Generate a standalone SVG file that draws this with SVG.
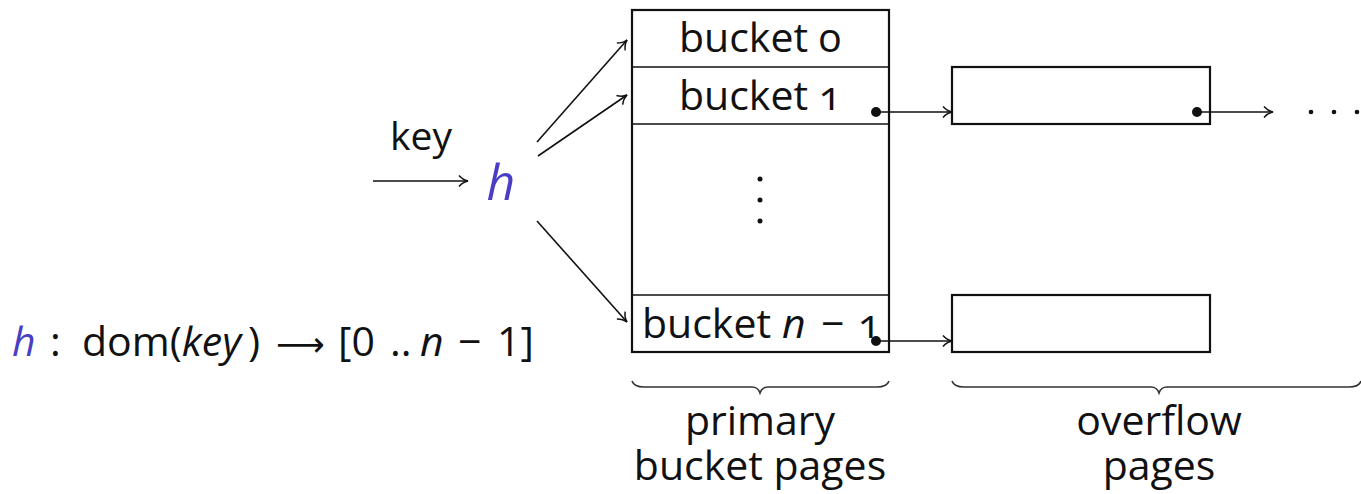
<svg xmlns="http://www.w3.org/2000/svg" width="1361" height="494" viewBox="0 0 1361 494">
<style>
text{font-family:"Open Sans","DejaVu Sans",sans-serif;fill:#111}
.t{font-size:41px;font-variant-numeric:oldstyle-nums}
.f{font-size:41px}
.box{fill:#fff;stroke:#111;stroke-width:2.2}
.ln{stroke:#111;stroke-width:1.6;fill:none}
.br{stroke:#333;stroke-width:1.6;fill:none}
.blue{fill:#4a3fc4}
.it{font-style:italic}
</style>
<defs>
<marker id="ah" markerWidth="14" markerHeight="14" refX="11" refY="7" orient="auto" markerUnits="userSpaceOnUse">
<path d="M2,1.5 Q6,6 11,7 Q6,8 2,12.5" fill="none" stroke="#111" stroke-width="1.5"/>
</marker>
</defs>
<rect width="1361" height="494" fill="#fff"/>
<g id="primary">
<rect class="box" x="632" y="10" width="257" height="342"/>
<line class="ln" x1="632" y1="67" x2="889" y2="67" stroke-width="2.2"/>
<line class="ln" x1="632" y1="124" x2="889" y2="124" stroke-width="2.2"/>
<line class="ln" x1="632" y1="295" x2="889" y2="295" stroke-width="2.2"/>
<text class="t" x="760" y="52" text-anchor="middle">bucket 0</text>
<text class="t" x="760" y="110" text-anchor="middle">bucket 1</text>
<circle cx="760" cy="179" r="2.5" fill="#111"/>
<circle cx="760" cy="200" r="2.5" fill="#111"/>
<circle cx="760" cy="221" r="2.5" fill="#111"/>
<text class="t" x="642" y="338">bucket <tspan class="it" x="782">n</tspan><tspan x="821">−</tspan><tspan x="858">1</tspan></text>
</g>
<g id="overflow1"><rect class="box" x="952" y="67" width="258" height="57"/></g>
<g id="overflow2"><rect class="box" x="952" y="295" width="258" height="57"/></g>
<g id="hash">
<text x="421" y="150" font-size="39" text-anchor="middle">key</text>
<text x="501" y="200" font-size="50" class="blue it" text-anchor="middle">h</text>
</g>
<g id="formula">
<text class="f" x="12" y="356"><tspan class="blue it">h</tspan><tspan x="50">:</tspan><tspan x="82">dom(</tspan><tspan class="it">key</tspan><tspan x="248">)</tspan><tspan x="276" font-family="DejaVu Sans" font-size="34">⟶</tspan><tspan x="338">[0</tspan><tspan x="390">..</tspan><tspan class="it" x="420">n</tspan><tspan x="458">−</tspan><tspan x="497">1]</tspan></text>
</g>
<g id="connectors">
<line class="ln" x1="373" y1="181" x2="468" y2="181" marker-end="url(#ah)"/>
<line class="ln" x1="537" y1="142" x2="627" y2="40" marker-end="url(#ah)"/>
<line class="ln" x1="538" y1="156" x2="627" y2="95" marker-end="url(#ah)"/>
<line class="ln" x1="537" y1="221" x2="627" y2="322" marker-end="url(#ah)"/>
<circle cx="876" cy="112" r="5" fill="#111"/>
<line class="ln" x1="876" y1="112" x2="952" y2="112" marker-end="url(#ah)"/>
<circle cx="1197" cy="112" r="5" fill="#111"/>
<line class="ln" x1="1197" y1="112" x2="1273" y2="112" marker-end="url(#ah)"/>
<circle cx="876" cy="341" r="5" fill="#111"/>
<line class="ln" x1="876" y1="341" x2="952" y2="341" marker-end="url(#ah)"/>
<circle cx="1311" cy="112" r="2.3" fill="#111"/>
<circle cx="1334" cy="112" r="2.3" fill="#111"/>
<circle cx="1357" cy="112" r="2.3" fill="#111"/>
</g>
<g id="labels">
<path class="br" d="M632,381 Q634,387 644,387 L752,387 Q758,387 760,393 Q762,387 768,387 L877,387 Q887,387 889,381"/>
<text class="t" x="760" y="435" text-anchor="middle">primary</text>
<text class="t" x="760" y="480" text-anchor="middle">bucket pages</text>
<path class="br" d="M952,381 Q954,387 964,387 L1151,387 Q1157,387 1159,393 Q1161,387 1167,387 L1349,387 Q1359,387 1361,381"/>
<text class="t" x="1159" y="435" text-anchor="middle">overflow</text>
<text class="t" x="1159" y="480" text-anchor="middle">pages</text>
</g>
</svg>
